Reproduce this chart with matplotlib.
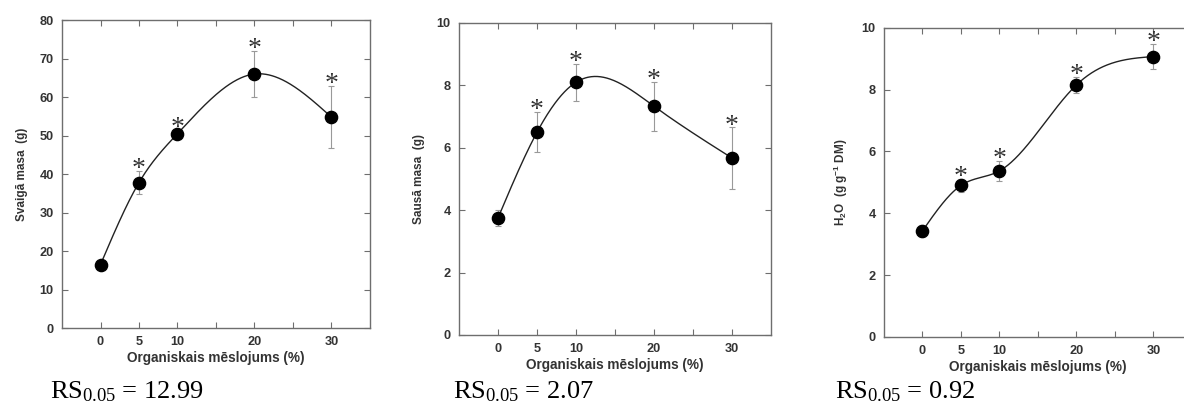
import numpy as np
import matplotlib
matplotlib.use("Agg")
import matplotlib.pyplot as plt

plt.rcParams["font.family"] = ["Liberation Sans", "DejaVu Sans"]
plt.rcParams["mathtext.default"] = "regular"

# data
doses = [0, 5, 10, 20, 30]
tick_labels = ["0", "5", "10", "20", "30"]

fresh_mass = [16.5, 37.8, 50.5, 66.0, 54.8]
fresh_err = [0.6, 3.0, 1.0, 6.0, 8.0]

dry_mass = [3.75, 6.5, 8.1, 7.33, 5.67]
dry_err = [0.25, 0.65, 0.6, 0.78, 0.98]

water = [3.43, 4.9, 5.37, 8.15, 9.07]
water_err = [0.2, 0.22, 0.33, 0.27, 0.4]

significant = [False, True, True, True, True]

ylabels = ["Svaigā masa  (g)", "Sausā masa  (g)", "H$_2$O  (g g$^{-1}$ DM)"]
rs_texts = ["RS$_{0.05}$ = 12.99", "RS$_{0.05}$ = 2.07", "RS$_{0.05}$ = 0.92"]
ylims = [(0, 80), (0, 10), (0, 10)]
ysteps = [10, 2, 2]


def natural_spline(x, y, num=300):
    # natural cubic spline through the points, only for drawing the smooth curve
    x = np.asarray(x, float)
    y = np.asarray(y, float)
    n = len(x)
    h = np.diff(x)
    A = np.zeros((n, n))
    b = np.zeros(n)
    A[0, 0] = 1
    A[-1, -1] = 1
    for i in range(1, n - 1):
        A[i, i - 1] = h[i - 1]
        A[i, i] = 2 * (h[i - 1] + h[i])
        A[i, i + 1] = h[i]
        b[i] = 6 * ((y[i + 1] - y[i]) / h[i] - (y[i] - y[i - 1]) / h[i - 1])
    M = np.linalg.solve(A, b)
    xs = np.linspace(x[0], x[-1], num)
    idx = np.clip(np.searchsorted(x, xs) - 1, 0, n - 2)
    x0, x1 = x[idx], x[idx + 1]
    hh = x1 - x0
    t0 = x1 - xs
    t1 = xs - x0
    ys = (M[idx] * t0**3 / (6 * hh) + M[idx + 1] * t1**3 / (6 * hh)
          + (y[idx] / hh - M[idx] * hh / 6) * t0
          + (y[idx + 1] / hh - M[idx + 1] * hh / 6) * t1)
    return xs, ys


fig = plt.figure(figsize=(11.84, 4.03), dpi=100)
positions = [
    [0.0524, 0.186, 0.260, 0.764],
    [0.3877, 0.169, 0.2635, 0.774],
    [0.7466, 0.164, 0.260, 0.767],
]
series = [(fresh_mass, fresh_err), (dry_mass, dry_err), (water, water_err)]
rs_x = [0.042, 0.383, 0.705]

frame = "#6e6e6e"
txt = "#333333"

for k, (vals, errs) in enumerate(series):
    ax = fig.add_axes(positions[k])
    xs, ys = natural_spline(doses, vals)
    ax.plot(xs, ys, color="#222222", lw=1.0, zorder=2)
    ax.errorbar(doses, vals, yerr=errs, fmt="none", ecolor="#999999",
                elinewidth=0.8, capsize=2.5, capthick=0.8, zorder=1)
    ax.plot(doses, vals, "o", color="black", ms=8.8, zorder=3)
    for x, v, e, s in zip(doses, vals, errs, significant):
        if s:
            ax.annotate("*", (x, v + e), xytext=(0, -8), textcoords="offset points",
                        ha="center", va="bottom", fontsize=20,
                        family="Liberation Serif", color="#333333")

    ax.set_xlim(-5, 35)
    ax.set_ylim(*ylims[k])
    ax.set_xticks(doses)
    ax.set_xticklabels(tick_labels)
    ax.set_xticks([15, 25], minor=True)
    ax.set_yticks(np.arange(ylims[k][0], ylims[k][1] + 0.01, ysteps[k]))
    ax.tick_params(which="both", direction="in", top=True, right=True,
                   length=4, width=0.8, color=frame, labelsize=9.2,
                   labelcolor=txt, pad=6)
    for lab in ax.get_xticklabels() + ax.get_yticklabels():
        lab.set_fontweight("bold")
    for sp in ax.spines.values():
        sp.set_color(frame)
        sp.set_linewidth(1.0)
    ax.set_xlabel("Organiskais mēslojums (%)", fontsize=9.8, fontweight="bold",
                  color=txt, labelpad=2)
    ax.set_ylabel(ylabels[k], fontsize=8.5, fontweight="bold", color=txt, labelpad=8)

    fig.text(rs_x[k], 0.012, rs_texts[k], family="Liberation Serif",
             fontsize=19, color="black", ha="left", va="baseline")

fig.savefig("out.png", dpi=100)
